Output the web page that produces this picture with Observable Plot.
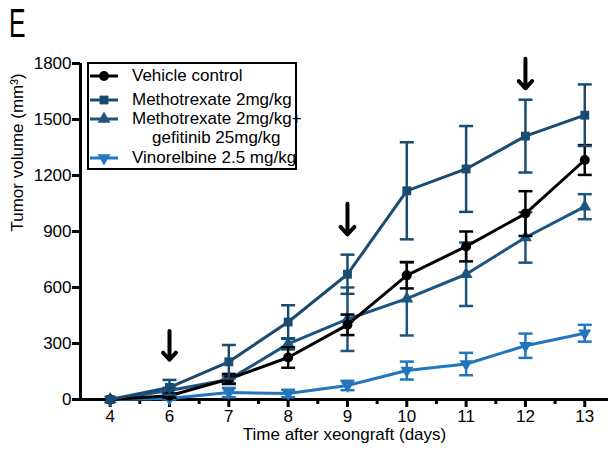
<!DOCTYPE html>
<html>
<head>
<meta charset="utf-8">
<script src="https://cdn.jsdelivr.net/npm/d3@7"></script>
<script src="https://cdn.jsdelivr.net/npm/@observablehq/plot@0.6"></script>
<style>
  html, body { margin: 0; padding: 0; background: #fff; }
  #wrap { position: relative; width: 611px; height: 451px; font-family: "Liberation Sans", Arial, sans-serif; color: #000; }
  #chart { position: absolute; left: 0; top: 0; }
  #panel { position: absolute; left: 9px; top: 3px; font-size: 40px; line-height: 40px; transform: scaleX(0.62); transform-origin: left top; }
  #legend { position: absolute; left: 87px; top: 62px; width: 210px; height: 108px; border: 2px solid #000; box-sizing: border-box; background: #fff; font-size: 17px; }
  .row { position: absolute; left: 0; height: 20px; line-height: 20px; white-space: nowrap; }
  .row svg { position: absolute; left: 1px; top: 3px; }
  .row span { position: absolute; left: 43px; top: 0; }
</style>
</head>
<body>
<div id="wrap">
  <div id="chart"></div>
  <div id="panel">E</div>
  <div id="legend"></div>
</div>
<script>
// ---- data ----
const days = [4, 6, 7, 8, 9, 10, 11, 12, 13];
const seriesNames = ["Vehicle control", "Methotrexate 2mg/kg", "Methotrexate 2mg/kg+", "Vinorelbine 2.5 mg/kg"];
const comboSecondLine = "gefitinib 25mg/kg";
const vehicleMean = [0, 20, 110, 225, 400, 665, 820, 996, 1283];
const vehicleErr  = [0, 10, 27, 55, 55, 70, 80, 120, 80];
const mtxMean     = [0, 65, 202, 415, 671, 1118, 1235, 1411, 1523];
const mtxErr      = [0, 40, 90, 90, 105, 260, 230, 195, 165];
const comboMean   = [0, 48, 107, 298, 430, 540, 671, 868, 1033];
const comboErr    = [0, 15, 20, 30, 170, 197, 170, 135, 67];
const vinoMean    = [0, 5, 37, 32, 75, 155, 190, 288, 355];
const vinoErr     = [0, 5, 25, 20, 25, 48, 60, 65, 45];
const yTicks = [0, 300, 600, 900, 1200, 1500, 1800];
const arrowDays = [6, 9, 12];
const arrowTop  = [367, 1049, 1826];
const arrowTip  = [213, 884, 1667];
const xLabel = "Time after xeongraft (days)";
const yLabel = "Tumor volume (mm³)";

// ---- styles ----
const colors = ["#000000", "#1a4b70", "#1e5580", "#2176bd"];

const invTriangle = {
  draw(ctx, size) {
    const side = Math.sqrt(4 * size / Math.sqrt(3));
    const h = side * Math.sqrt(3) / 2;
    ctx.moveTo(-side / 2, -h / 3);
    ctx.lineTo(side / 2, -h / 3);
    ctx.lineTo(0, 2 * h / 3);
    ctx.closePath();
  }
};
const capSymbol = {
  draw(ctx, size) { ctx.moveTo(-7, 0); ctx.lineTo(7, 0); }
};
const symbols = ["circle", "square", "triangle", invTriangle];
const radii = [5, 5, 4.8, 4.8];

const means = [vehicleMean, mtxMean, comboMean, vinoMean];
const errs = [vehicleErr, mtxErr, comboErr, vinoErr];

const seriesRows = means.map((m, s) => days.map((d, i) => ({
  pos: i, day: d, mean: m[i], lo: m[i] - errs[s][i], hi: m[i] + errs[s][i], err: errs[s][i], series: seriesNames[s]
})));

const arrowRows = arrowDays.map((d, i) => ({ pos: days.indexOf(d), top: arrowTop[i], tip: arrowTip[i] }));

const drawOrder = [3, 2, 0, 1];
const seriesMarks = drawOrder.flatMap(s => {
  const rows = seriesRows[s];
  const withErr = rows.filter(r => r.err > 0);
  return [
    Plot.ruleX(withErr, { x: "pos", y1: "lo", y2: "hi", stroke: colors[s], strokeWidth: 2.5 }),
    Plot.dot(withErr, { x: "pos", y: "hi", symbol: capSymbol, stroke: colors[s], fill: "none", strokeWidth: 2.5, r: 4 }),
    Plot.dot(withErr, { x: "pos", y: "lo", symbol: capSymbol, stroke: colors[s], fill: "none", strokeWidth: 2.5, r: 4 }),
    Plot.line(rows, { x: "pos", y: "mean", stroke: colors[s], strokeWidth: 3 }),
    Plot.dot(rows, { x: "pos", y: "mean", symbol: symbols[s], fill: colors[s], stroke: "none", r: radii[s] })
  ];
});

const minorTicks = d3.range(days.length - 1).map(i => i + 0.5);

const chart = Plot.plot({
  width: 611,
  height: 451,
  marginLeft: 80,
  marginRight: 3,
  marginTop: 63,
  marginBottom: 52,
  x: { domain: [-0.5, 8.4], axis: null },
  y: { domain: [0, 1800], axis: null },
  style: { fontFamily: '"Liberation Sans", Arial, sans-serif', fontSize: "17px", color: "#000", background: "#fff", overflow: "visible" },
  marks: [
    Plot.axisY({ ticks: yTicks, tickFormat: d => String(d), tickSize: 8, tickPadding: 1, strokeWidth: 3, fontSize: 17, label: null }),
    Plot.axisX({ ticks: d3.range(days.length), tickFormat: i => String(days[i]), tickSize: 8, tickPadding: 2, strokeWidth: 3, fontSize: 17, label: null }),
    Plot.axisX({ ticks: minorTicks, tickFormat: () => "", tickSize: 5, strokeWidth: 3, label: null }),
    Plot.ruleY([0], { strokeWidth: 3 }),
    Plot.ruleX([-0.5], { strokeWidth: 3 }),
    ...seriesMarks,
    Plot.arrow(arrowRows, { x: "pos", y1: "top", y2: "tip", stroke: "#000", strokeWidth: 4, headLength: 13, headAngle: 85 }),
    Plot.text([xLabel], { text: d => d, frameAnchor: "bottom", dy: 40, fontSize: 17 }),
    Plot.text([yLabel], { text: d => d, frameAnchor: "left", rotate: -90, dx: -63, fontSize: 17 })
  ]
});
document.getElementById("chart").appendChild(chart);

// ---- legend ----
const legend = d3.select("#legend");
const rowTops = [2, 26, 45, 84];
function symbolPath(s, size) {
  const sym = typeof symbols[s] === "string"
    ? ({ circle: d3.symbolCircle, square: d3.symbolSquare, triangle: d3.symbolTriangle })[symbols[s]]
    : symbols[s];
  return d3.symbol(sym, size)();
}
seriesNames.forEach((name, s) => {
  const row = legend.append("div").attr("class", "row").style("top", rowTops[s] + "px");
  const svg = row.append("svg").attr("width", 30).attr("height", 14);
  svg.append("line").attr("x1", 0).attr("x2", 28).attr("y1", 7).attr("y2", 7)
    .attr("stroke", colors[s]).attr("stroke-width", 3);
  svg.append("path").attr("transform", "translate(14,7)")
    .attr("d", symbolPath(s, Math.PI * radii[s] * radii[s]))
    .attr("fill", colors[s]);
  row.append("span").text(name);
});
legend.append("div").attr("class", "row").style("top", "64px")
  .append("span").style("left", "63px").text(comboSecondLine);
</script>
</body>
</html>
